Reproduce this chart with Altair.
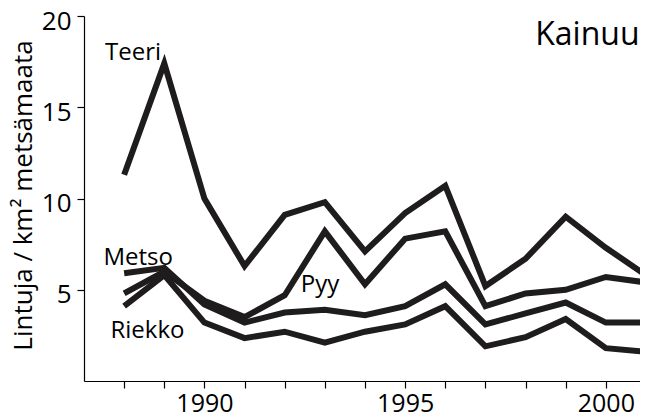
import altair as alt
import pandas as pd

years = list(range(1988, 2002))
teeri = [11.3, 17.4, 10.0, 6.3, 9.1, 9.8, 7.1, 9.2, 10.7, 5.2, 6.7, 9.0, 7.3, 5.8]
pyy = [4.8, 6.0, 4.4, 3.5, 4.7, 8.2, 5.3, 7.8, 8.2, 4.1, 4.8, 5.0, 5.7, 5.4]
metso = [5.9, 6.2, 4.2, 3.2, 3.75, 3.9, 3.6, 4.1, 5.3, 3.1, 3.7, 4.3, 3.2, 3.2]
riekko = [4.1, 5.8, 3.2, 2.35, 2.7, 2.1, 2.7, 3.1, 4.1, 1.9, 2.4, 3.4, 1.8, 1.6]

label_names = ["Teeri", "Metso", "Pyy", "Riekko"]
label_x = [1988.22, 1988.35, 1992.88, 1988.58]
label_y = [17.6, 6.35, 4.9, 2.36]

title_text = ["Kainuu"]
title_x = [2000.84]
title_y = [18.4]

rows = []
for name, vals in [("Teeri", teeri), ("Pyy", pyy), ("Metso", metso), ("Riekko", riekko)]:
    for yr, v in zip(years, vals):
        rows.append({"species": name, "year": yr, "value": v})
df = pd.DataFrame(rows)
lab = pd.DataFrame({"name": label_names, "x": label_x, "y": label_y})
tdf = pd.DataFrame({"name": title_text, "x": title_x, "y": title_y})

FONT = "Open Sans"
xscale = alt.Scale(domain=[1987, 2000.851], nice=False, zero=False)
yscale = alt.Scale(domain=[0, 20], nice=False)

lines = alt.Chart(df).mark_line(
    color="#1e1c1d", strokeWidth=6, strokeCap="butt", strokeJoin="miter", clip=False
).encode(
    x=alt.X("year:Q", scale=xscale, axis=alt.Axis(
        values=years[:-1], labelExpr="datum.value % 5 == 0 ? datum.value : ''",
        grid=False, title=None, domainColor="black", tickColor="black",
        tickSize=7, labelFontSize=25, labelFont=FONT, labelColor="black",
        labelPadding=3, labelFlush=False, domainWidth=1.2, tickWidth=1.2)),
    y=alt.Y("value:Q", scale=yscale, axis=alt.Axis(
        values=[5, 10, 15, 20], grid=False, title="Lintuja / km² metsämaata",
        titleFontSize=26, titleFont=FONT, titleFontWeight="normal", titleColor="black",
        titleX=-61, titleY=179, titleBaseline="middle", titleAlign="center", titleAngle=270,
        domainColor="black", tickColor="black", tickSize=7,
        labelFontSize=26, labelFont=FONT, labelColor="black", labelPadding=6,
        labelOffset=5, labelFlush=False,
        domainWidth=1.2, tickWidth=1.2)),
    detail="species:N",
)

labels = alt.Chart(lab).mark_text(
    font=FONT, fontSize=24, color="black", baseline="alphabetic", align="center"
).encode(x=alt.X("x:Q", scale=xscale), y=alt.Y("y:Q", scale=yscale), text="name:N")

title = alt.Chart(tdf).mark_text(
    font=FONT, fontSize=32, color="black", baseline="alphabetic", align="right"
).encode(x=alt.X("x:Q", scale=xscale), y=alt.Y("y:Q", scale=yscale), text="name:N")

chart = alt.layer(lines, labels, title).properties(
    width=556, height=365,
    background="white",
    autosize=alt.AutoSizeParams(type="none"),
    padding={"left": 76, "top": 8, "right": 0, "bottom": 36},
).configure_view(stroke=None)

chart.save("out.html", embed_options={"renderer": "svg", "actions": False})
